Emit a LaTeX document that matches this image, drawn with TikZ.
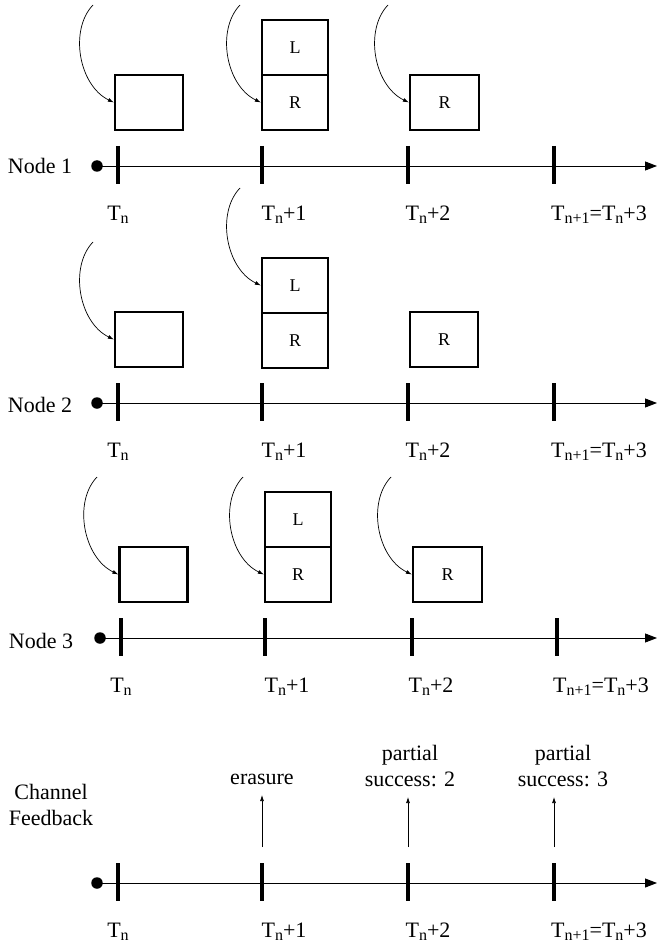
\documentclass[tikz,border=0pt]{standalone}
\usepackage{fontspec}
\setmainfont{Liberation Serif}
\usetikzlibrary{arrows.meta}
\newcommand\sbs[1]{\raisebox{-0.12em}{\fontsize{16}{16}\selectfont #1}}
\begin{document}
\begin{tikzpicture}[x=1pt,y=-1pt,
  lbl/.style={font=\fontsize{22}{26}\selectfont, inner sep=0pt},
  boxstyle/.style={draw, line width=2.3pt, minimum width=68pt, minimum height=55pt, inner sep=0pt, font=\fontsize{18}{18}\selectfont},
  tline/.style={line width=0.9pt, -{Triangle[length=12pt,width=9pt]}},
  tick/.style={line width=3.6pt},
  dotstyle/.style={circle, fill, inner sep=0pt, minimum size=11.5pt},
  curvearrow/.style={line width=0.7pt, -{Latex[length=6pt,width=4pt]}},
  fb/.style={line width=0.7pt, -{Latex[length=6pt,width=4pt]}}
]
\useasboundingbox (0,0) rectangle (657,944);

% ---------------- Node 1 ----------------
\node[lbl] (n1) at (40,166) {Node 1};
\node[dotstyle] (d1) at (97,166) {};
\coordinate (e1) at (657,166);
\draw[tline] (d1.center) -- (e1);
\foreach \x in {118,262,408,554} \draw[tick] (\x,146) -- (\x,184);
\node[boxstyle] (b11) at (149,102.5) {};
\node[boxstyle, minimum width=66pt] (b12L) at (295,47.5) {L};
\node[boxstyle, minimum width=66pt] (b12R) at (295,102.5) {R};
\node[boxstyle, minimum width=69pt] (b13) at (444.5,102.5) {R};
\coordinate (s11) at (93,5);
\coordinate (s12) at (240,5);
\coordinate (s13) at (388,5);
\draw[curvearrow] (s11) .. controls +(-24,25) and +(-35,-17) .. (b11.west);
\draw[curvearrow] (s12) .. controls +(-24,25) and +(-35,-17) .. (b12R.west);
\draw[curvearrow] (s13) .. controls +(-24,25) and +(-35,-17) .. (b13.west);
\node[lbl] (t11) at (118,215) {T\sbs{n}};
\node[lbl] (t12) at (284,215) {T\sbs{n}+1};
\node[lbl] (t13) at (428,215) {T\sbs{n}+2};
\node[lbl] (t14) at (599,215) {T\sbs{n+1}=T\sbs{n}+3};

% ---------------- Node 2 ----------------
\node[lbl] (n2) at (40,405) {Node 2};
\node[dotstyle] (d2) at (97,403) {};
\coordinate (e2) at (657,403);
\draw[tline] (d2.center) -- (e2);
\foreach \x in {118,262,408,554} \draw[tick] (\x,383) -- (\x,421);
\node[boxstyle] (b21) at (149,339.5) {};
\node[boxstyle, minimum width=66pt] (b22L) at (295,285.5) {L};
\node[boxstyle, minimum width=66pt] (b22R) at (295,340.5) {R};
\node[boxstyle] (b23) at (444,339.5) {R};
\coordinate (s21) at (93,242);
\coordinate (s22) at (240,188);
\draw[curvearrow] (s21) .. controls +(-24,25) and +(-35,-17) .. (b21.west);
\draw[curvearrow] (s22) .. controls +(-24,25) and +(-35,-17) .. (b22L.west);
\node[lbl] (t21) at (118,452) {T\sbs{n}};
\node[lbl] (t22) at (284,452) {T\sbs{n}+1};
\node[lbl] (t23) at (428,452) {T\sbs{n}+2};
\node[lbl] (t24) at (599,452) {T\sbs{n+1}=T\sbs{n}+3};

% ---------------- Node 3 ----------------
\node[lbl] (n3) at (41,641) {Node 3};
\node[dotstyle] (d3) at (100,638) {};
\coordinate (e3) at (657,638);
\draw[tline] (d3.center) -- (e3);
\foreach \x in {121,265,412,557} \draw[tick] (\x,618) -- (\x,656);
\node[boxstyle] (b31) at (153.5,574.5) {};
\node[boxstyle, minimum width=66pt] (b32L) at (298,519.5) {L};
\node[boxstyle, minimum width=66pt] (b32R) at (298,574.5) {R};
\node[boxstyle, minimum width=69pt] (b33) at (447.5,574.5) {R};
\coordinate (s31) at (97,477);
\coordinate (s32) at (243,477);
\coordinate (s33) at (391,477);
\draw[curvearrow] (s31) .. controls +(-24,25) and +(-35,-17) .. (b31.west);
\draw[curvearrow] (s32) .. controls +(-24,25) and +(-35,-17) .. (b32R.west);
\draw[curvearrow] (s33) .. controls +(-24,25) and +(-35,-17) .. (b33.west);
\node[lbl] (t31) at (121,687) {T\sbs{n}};
\node[lbl] (t32) at (287,687) {T\sbs{n}+1};
\node[lbl] (t33) at (431,687) {T\sbs{n}+2};
\node[lbl] (t34) at (601,687) {T\sbs{n+1}=T\sbs{n}+3};

% ---------------- Channel Feedback ----------------
\node[lbl, align=center] (cf) at (51,805) {Channel\\Feedback};
\node[dotstyle] (d4) at (97,883) {};
\coordinate (e4) at (657,883);
\draw[tline] (d4.center) -- (e4);
\foreach \x in {118,262,408,554} \draw[tick] (\x,863) -- (\x,901);
\node[lbl, anchor=south] (er) at (262,785) {erasure};
\node[lbl, anchor=south, align=center] (ps2) at (410,787) {partial\\success: 2};
\node[lbl, anchor=south, align=center] (ps3) at (563,787) {partial\\success: 3};
\coordinate (a2) at (262,847);
\coordinate (a3) at (408,847);
\coordinate (a4) at (554,847);
\draw[fb, shorten >=10pt] (a2) -- (a2 |- er.south);
\draw[fb, shorten >=10pt] (a3) -- (a3 |- ps2.south);
\draw[fb, shorten >=10pt] (a4) -- (a4 |- ps3.south);
\node[lbl] (t41) at (118,932) {T\sbs{n}};
\node[lbl] (t42) at (284,932) {T\sbs{n}+1};
\node[lbl] (t43) at (428,932) {T\sbs{n}+2};
\node[lbl] (t44) at (599,932) {T\sbs{n+1}=T\sbs{n}+3};
\end{tikzpicture}
\end{document}
